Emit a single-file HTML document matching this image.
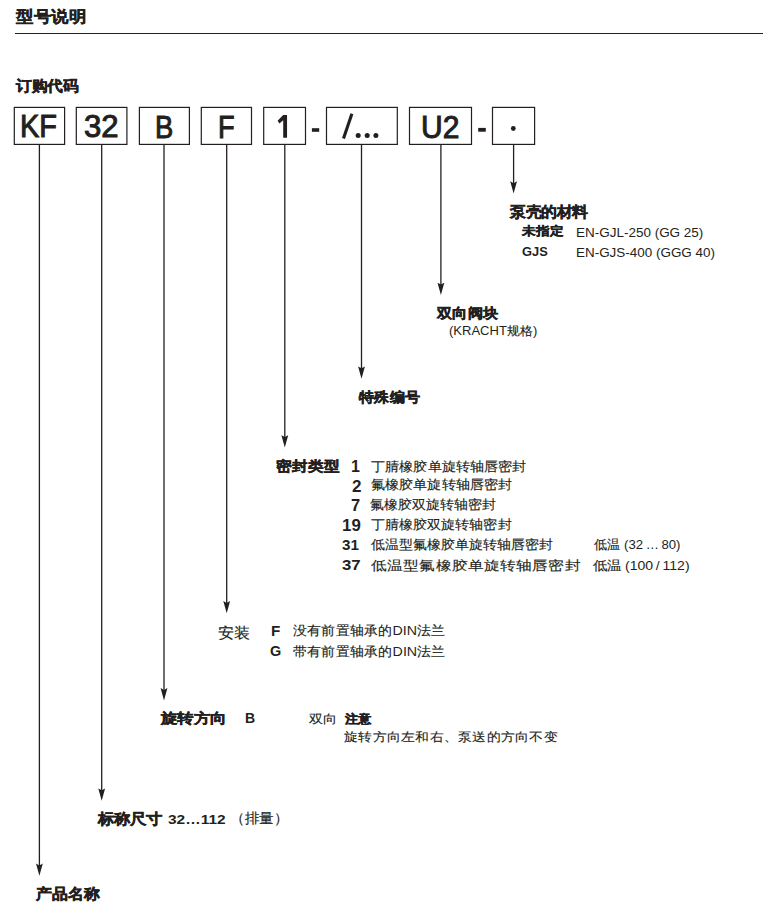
<!DOCTYPE html><html><head><meta charset="utf-8"><style>
html,body{margin:0;padding:0;background:#fff;}
body{width:783px;height:914px;position:relative;overflow:hidden;font-family:"Liberation Sans",sans-serif;color:#231f20;}
.t{position:absolute;white-space:nowrap;line-height:1;transform-origin:0 0;}
.b{font-weight:bold;}
</style></head><body>
<svg id="g" width="783" height="914" style="position:absolute;left:0;top:0">
<line x1="15" y1="33.5" x2="763" y2="33.5" stroke="#231f20" stroke-width="1.1"/>
<rect x="14.3" y="107.4" width="50.3" height="37" fill="none" stroke="#231f20" stroke-width="1.2"/>
<rect x="76.3" y="107.4" width="50.6" height="37" fill="none" stroke="#231f20" stroke-width="1.2"/>
<rect x="139.4" y="107.4" width="50.0" height="37" fill="none" stroke="#231f20" stroke-width="1.2"/>
<rect x="201.3" y="107.4" width="50.2" height="37" fill="none" stroke="#231f20" stroke-width="1.2"/>
<rect x="263.7" y="107.4" width="41.8" height="37" fill="none" stroke="#231f20" stroke-width="1.2"/>
<rect x="326.5" y="107.4" width="70.8" height="37" fill="none" stroke="#231f20" stroke-width="1.2"/>
<rect x="409.5" y="107.4" width="62.0" height="37" fill="none" stroke="#231f20" stroke-width="1.2"/>
<rect x="492.5" y="107.4" width="42.1" height="37" fill="none" stroke="#231f20" stroke-width="1.2"/>
<line x1="39.4" y1="145" x2="39.4" y2="867.8" stroke="#231f20" stroke-width="1.3"/>
<path d="M39.4 875.8 L36.0 863.5 L39.4 865.4 L42.8 863.5 Z" fill="#231f20"/>
<line x1="101.7" y1="145" x2="101.7" y2="792.7" stroke="#231f20" stroke-width="1.3"/>
<path d="M101.7 800.7 L98.3 788.4 L101.7 790.3 L105.1 788.4 Z" fill="#231f20"/>
<line x1="164.0" y1="145" x2="164.0" y2="692.4" stroke="#231f20" stroke-width="1.3"/>
<path d="M164.0 700.4 L160.6 688.1 L164.0 690.0 L167.4 688.1 Z" fill="#231f20"/>
<line x1="226.7" y1="145" x2="226.7" y2="605.3" stroke="#231f20" stroke-width="1.3"/>
<path d="M226.7 613.3 L223.3 601.0 L226.7 602.9 L230.1 601.0 Z" fill="#231f20"/>
<line x1="284.8" y1="145" x2="284.8" y2="439.5" stroke="#231f20" stroke-width="1.3"/>
<path d="M284.8 447.5 L281.4 435.2 L284.8 437.1 L288.2 435.2 Z" fill="#231f20"/>
<line x1="361.5" y1="145" x2="361.5" y2="370.7" stroke="#231f20" stroke-width="1.3"/>
<path d="M361.5 378.7 L358.1 366.4 L361.5 368.3 L364.9 366.4 Z" fill="#231f20"/>
<line x1="440.9" y1="145" x2="440.9" y2="287.0" stroke="#231f20" stroke-width="1.3"/>
<path d="M440.9 295.0 L437.5 282.7 L440.9 284.6 L444.3 282.7 Z" fill="#231f20"/>
<line x1="513.6" y1="145" x2="513.6" y2="185.6" stroke="#231f20" stroke-width="1.3"/>
<path d="M513.6 193.6 L510.2 181.3 L513.6 183.2 L517.0 181.3 Z" fill="#231f20"/>
<rect x="311.9" y="128.2" width="7.3" height="3.6" fill="#231f20"/>
<rect x="478.2" y="127.9" width="7.6" height="3.8" fill="#231f20"/>
<circle cx="513.3" cy="128.5" r="2.4" fill="#231f20"/>
<path d="M283.2 114.9 L287.05 114.9 L287.05 137.7 L283.2 137.7 L283.2 120.2 L279.4 123.4 L277.6 120.8 Z" fill="#231f20"/>
<line x1="351.9" y1="113.7" x2="343.5" y2="138.5" stroke="#231f20" stroke-width="3.1"/>
<circle cx="358.2" cy="135.6" r="2.5" fill="#231f20"/>
<circle cx="367.2" cy="135.6" r="2.5" fill="#231f20"/>
<circle cx="375.9" cy="135.6" r="2.5" fill="#231f20"/>
</svg>
<div id="title" class="t b" style="left:15.60px;top:8.60px;font-size:17.50px;transform:scale(0.9819,0.9032);-webkit-text-stroke:0.45px #231f20;">型号说明</div>
<div id="order" class="t b" style="left:15.64px;top:79.44px;font-size:16.00px;transform:scale(0.9814,0.9366);-webkit-text-stroke:0.45px #231f20;">订购代码</div>
<div id="kf" class="t" style="left:19.62px;top:110.43px;font-size:31.00px;transform:scale(0.9320,1.0225);-webkit-text-stroke:1.0px #231f20;">KF</div>
<div id="n32" class="t" style="left:83.99px;top:110.77px;font-size:31.00px;transform:scale(1.0039,1.0068);-webkit-text-stroke:1.0px #231f20;">32</div>
<div id="bB" class="t" style="left:154.98px;top:110.52px;font-size:31.00px;transform:scale(0.8818,1.0240);-webkit-text-stroke:1.0px #231f20;">B</div>
<div id="bF" class="t" style="left:217.68px;top:110.91px;font-size:31.00px;transform:scale(0.8778,1.0279);-webkit-text-stroke:1.0px #231f20;">F</div>
<div id="bu2" class="t" style="left:420.61px;top:110.51px;font-size:31.00px;transform:scale(0.9691,1.0252);-webkit-text-stroke:1.0px #231f20;">U2</div>
<div id="mat" class="t b" style="left:510.04px;top:205.12px;font-size:16.00px;transform:scale(0.9749,0.9169);-webkit-text-stroke:0.45px #231f20;">泵壳的材料</div>
<div id="wzd" class="t b" style="left:522.43px;top:225.04px;font-size:14.00px;transform:scale(0.9883,0.8720);-webkit-text-stroke:0.45px #231f20;">未指定</div>
<div id="gjs" class="t b" style="left:521.98px;top:244.79px;font-size:13.00px;transform:scale(0.9890,0.9953);">GJS</div>
<div id="en1" class="t" style="left:575.84px;top:225.80px;font-size:13.00px;transform:scale(1.0368,0.9682);">EN-GJL-250 (GG 25)</div>
<div id="en2" class="t" style="left:575.84px;top:245.93px;font-size:13.00px;transform:scale(1.0345,0.9682);">EN-GJS-400 (GGG 40)</div>
<div id="valve" class="t b" style="left:436.89px;top:306.37px;font-size:16.00px;transform:scale(0.9613,0.8884);-webkit-text-stroke:0.45px #231f20;">双向阀块</div>
<div id="kracht" class="t" style="left:449.17px;top:324.76px;font-size:12.00px;transform:scale(1.0851,1.0167);-webkit-text-stroke:0.15px #231f20;"><span style="-webkit-text-stroke:0">(KRACHT</span>规格<span style="-webkit-text-stroke:0">)</span></div>
<div id="special" class="t b" style="left:358.85px;top:390.10px;font-size:16.00px;transform:scale(0.9660,0.8974);-webkit-text-stroke:0.45px #231f20;">特殊编号</div>
<div id="seal" class="t b" style="left:276.47px;top:459.03px;font-size:16.00px;transform:scale(1.0058,0.9056);-webkit-text-stroke:0.45px #231f20;">密封类型</div>
<div id="d1" class="t b" style="left:351.26px;top:457.77px;font-size:15.00px;transform:scale(1.0681,1.0681);">1</div>
<div id="d2" class="t b" style="left:351.57px;top:476.62px;font-size:15.00px;transform:scale(1.1374,1.1374);">2</div>
<div id="d7" class="t b" style="left:350.97px;top:496.83px;font-size:15.00px;transform:scale(1.1031,1.1031);">7</div>
<div id="d19" class="t b" style="left:341.57px;top:516.91px;font-size:15.00px;transform:scale(1.1242,1.0738);">19</div>
<div id="d31" class="t b" style="left:342.08px;top:537.08px;font-size:15.00px;transform:scale(1.0166,1.0033);">31</div>
<div id="d37" class="t b" style="left:341.97px;top:556.56px;font-size:15.00px;transform:scale(1.1220,1.0033);">37</div>
<div id="s1" class="t" style="left:370.97px;top:459.97px;font-size:14.00px;transform:scale(1.0103,0.9300);-webkit-text-stroke:0.15px #231f20;">丁腈橡胶单旋转轴唇密封</div>
<div id="s2" class="t" style="left:371.24px;top:478.00px;font-size:14.00px;transform:scale(1.0078,0.9300);-webkit-text-stroke:0.15px #231f20;">氟橡胶单旋转轴唇密封</div>
<div id="s3" class="t" style="left:370.49px;top:497.68px;font-size:14.00px;transform:scale(0.9978,0.9300);-webkit-text-stroke:0.15px #231f20;">氟橡胶双旋转轴密封</div>
<div id="s4" class="t" style="left:370.97px;top:518.33px;font-size:14.00px;transform:scale(1.0043,0.9300);-webkit-text-stroke:0.15px #231f20;">丁腈橡胶双旋转轴密封</div>
<div id="s5" class="t" style="left:370.99px;top:538.29px;font-size:14.00px;transform:scale(0.9975,0.9300);-webkit-text-stroke:0.15px #231f20;">低温型氟橡胶单旋转轴唇密封</div>
<div id="s6" class="t" style="left:371.00px;top:558.73px;font-size:16.00px;transform:scale(1.0082,0.8345);-webkit-text-stroke:0.15px #231f20;">低温型氟橡胶单旋转轴唇密封</div>
<div id="lt1" class="t" style="left:593.67px;top:537.76px;font-size:13.00px;transform:scale(1.0124,1.0121);-webkit-text-stroke:0.15px #231f20;">低温 <span style="-webkit-text-stroke:0">(32 … 80)</span></div>
<div id="lt2" class="t" style="left:593.38px;top:558.59px;font-size:13.00px;transform:scale(1.0789,0.9668);-webkit-text-stroke:0.15px #231f20;">低温 <span style="-webkit-text-stroke:0">(100 / 112)</span></div>
<div id="install" class="t" style="left:217.92px;top:625.17px;font-size:16.00px;transform:scale(1.0312,0.9633);-webkit-text-stroke:0.15px #231f20;">安装</div>
<div id="iF" class="t b" style="left:270.63px;top:623.34px;font-size:14.00px;transform:scale(1.0840,1.0840);">F</div>
<div id="iG" class="t b" style="left:270.11px;top:643.54px;font-size:14.00px;transform:scale(1.0328,1.0328);">G</div>
<div id="i1" class="t" style="left:292.86px;top:624.45px;font-size:14.00px;transform:scale(1.0163,0.9500);-webkit-text-stroke:0.15px #231f20;">没有前置轴承的<span style="-webkit-text-stroke:0">DIN</span>法兰</div>
<div id="i2" class="t" style="left:292.86px;top:645.25px;font-size:14.00px;transform:scale(1.0164,0.9500);-webkit-text-stroke:0.15px #231f20;">带有前置轴承的<span style="-webkit-text-stroke:0">DIN</span>法兰</div>
<div id="rot" class="t b" style="left:160.62px;top:712.28px;font-size:16.00px;transform:scale(1.0230,0.8685);-webkit-text-stroke:0.45px #231f20;">旋转方向</div>
<div id="rB" class="t b" style="left:245.21px;top:711.31px;font-size:14.00px;transform:scale(1.0019,1.0019);">B</div>
<div id="bidir" class="t" style="left:308.81px;top:713.07px;font-size:14.00px;transform:scale(0.9906,0.8474);-webkit-text-stroke:0.15px #231f20;">双向</div>
<div id="note" class="t b" style="left:344.66px;top:712.56px;font-size:14.00px;transform:scale(0.9617,0.8715);-webkit-text-stroke:0.45px #231f20;">注意</div>
<div id="notet" class="t" style="left:344.23px;top:729.81px;font-size:14.00px;transform:scale(1.0186,0.8859);-webkit-text-stroke:0.15px #231f20;">旋转方向左和右、泵送的方向不变</div>
<div id="size" class="t b" style="left:98.38px;top:811.83px;font-size:16.00px;transform:scale(1.0004,0.9166);-webkit-text-stroke:0.45px #231f20;">标称尺寸</div>
<div id="sizen" class="t b" style="left:167.85px;top:812.44px;font-size:13.00px;transform:scale(1.1910,1.0483);">32…112</div>
<div id="disp" class="t" style="left:230.28px;top:811.46px;font-size:14.00px;transform:scale(1.0358,0.9901);-webkit-text-stroke:0.15px #231f20;">（排量）</div>
<div id="prod" class="t b" style="left:35.50px;top:887.05px;font-size:16.00px;transform:scale(1.0096,0.9548);-webkit-text-stroke:0.45px #231f20;">产品名称</div>
</body></html>
